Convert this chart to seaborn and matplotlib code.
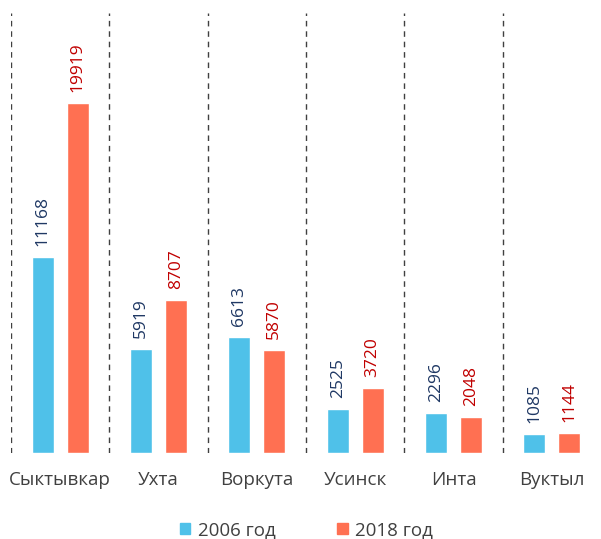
import pandas as pd
import matplotlib.pyplot as plt
import seaborn as sns

sns.set_style("white")
plt.rcParams["font.family"] = ["Open Sans", "DejaVu Sans"]

# data
cities = ["Сыктывкар", "Ухта", "Воркута", "Усинск", "Инта", "Вуктыл"]
values_2006 = [11168, 5919, 6613, 2525, 2296, 1085]
values_2018 = [19919, 8707, 5870, 3720, 2048, 1144]
years = ["2006 год", "2018 год"]

bar_colors = ["#4FC1E9", "#FF7052"]
label_colors = ["#1F3864", "#C00000"]

df = pd.DataFrame({
    "city": cities * 2,
    "value": values_2006 + values_2018,
    "year": [years[0]] * len(cities) + [years[1]] * len(cities),
})

fig = plt.figure(figsize=(6.01, 5.39), dpi=100)
ax = fig.add_axes([11 / 601, 1 - 453 / 539, 590 / 601, 440 / 539])

sns.barplot(data=df, x="city", y="value", hue="year", palette=bar_colors,
            saturation=1, width=0.71, gap=0.37, ax=ax, legend=False)

# value labels
for container, col in zip(ax.containers, label_colors):
    for bar in container:
        h = bar.get_height()
        ax.annotate(f"{int(h)}", (bar.get_x() + bar.get_width() / 2, h),
                    xytext=(0, 8), textcoords="offset points",
                    rotation=90, ha="center", va="bottom",
                    fontsize=12.5, color=col)

# dashed separators
for i in range(len(cities)):
    ax.axvline(i - 0.5, color="#404040", lw=1, ls=(0, (4, 3.5)), ymax=1)

ax.set_xlim(-0.5, len(cities) - 0.5)
ax.set_ylim(0, 25040)
ax.set_xlabel("")
ax.set_ylabel("")
ax.set_yticks([])
ax.tick_params(axis="x", length=0, pad=13, labelsize=13.5, labelcolor="#404040")
for s in ax.spines.values():
    s.set_visible(False)

handles = [plt.Rectangle((0, 0), 1, 1, color=c) for c in bar_colors]
fig.legend(handles, years, loc="center", bbox_to_anchor=(0.51, 1 - 530 / 539),
           ncol=2, frameon=False, fontsize=13.5, handlelength=0.55,
           handleheight=0.55, handletextpad=0.4, columnspacing=3.3,
           labelcolor="#404040")

plt.savefig("out.png", dpi=100)
plt.close()
